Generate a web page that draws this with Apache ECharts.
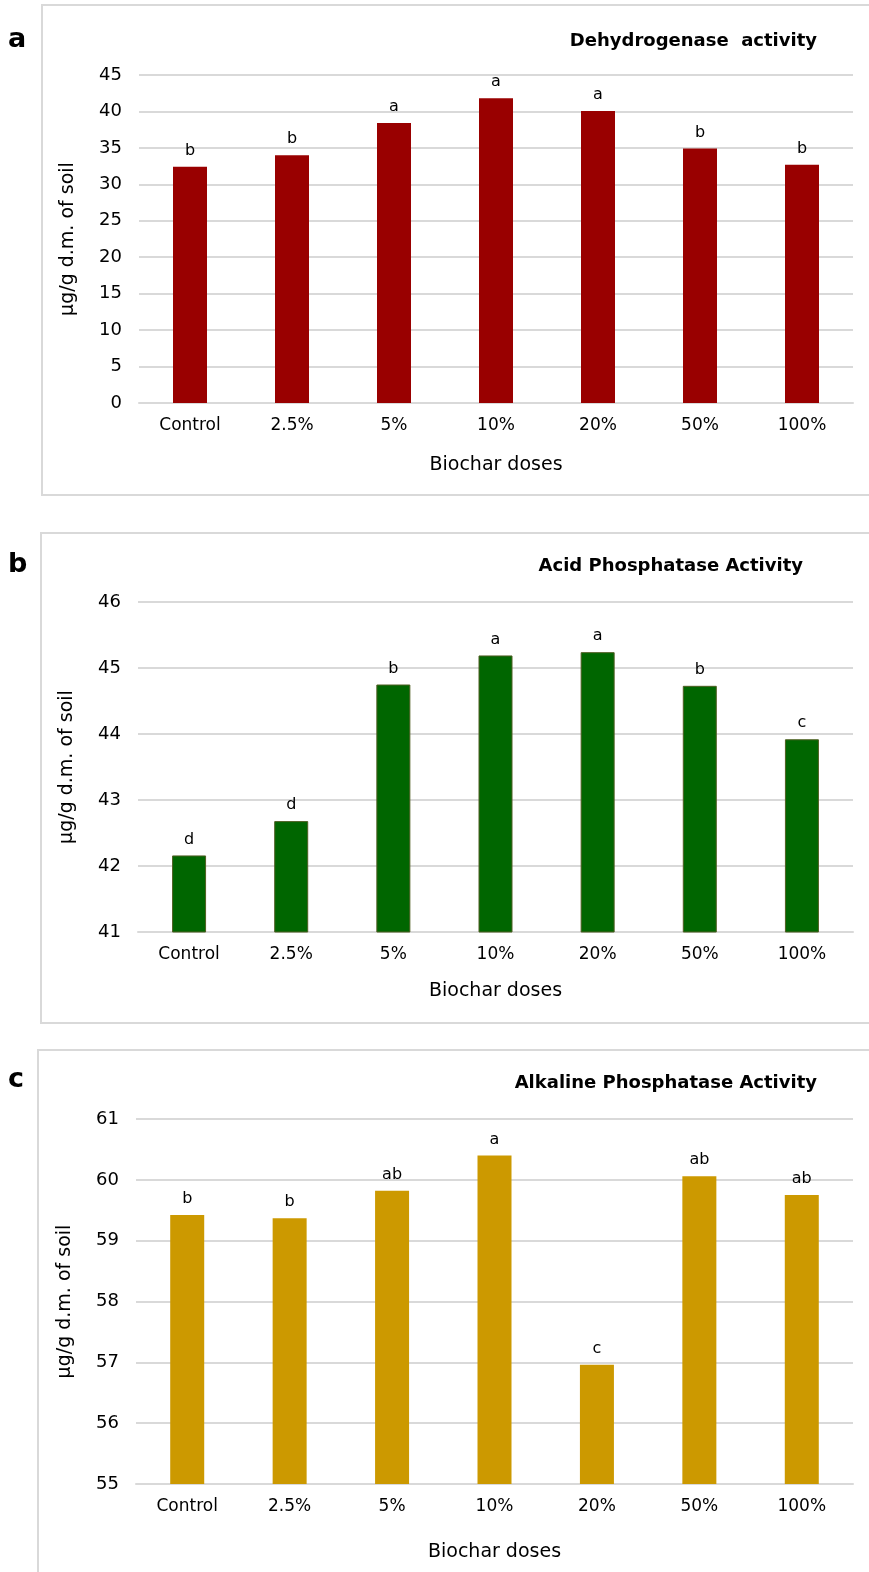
<!DOCTYPE html>
<html>
<head>
<meta charset="utf-8">
<script src="https://cdn.jsdelivr.net/npm/echarts@6/dist/echarts.min.js"></script>
<style>
html,body{margin:0;padding:0;background:#fff;}
#chart{width:869px;height:1572px;}
</style>
</head>
<body>
<div id="chart"></div>
<script>
// ---- data ----
const categories = ['Control', '2.5%', '5%', '10%', '20%', '50%', '100%'];
const dehydrogenase = [32.4, 34.0, 38.4, 41.8, 40.05, 34.9, 32.7];
const dehydrogenaseLetters = ['b', 'b', 'a', 'a', 'a', 'b', 'b'];
const acidPhosphatase = [42.16, 42.68, 44.75, 45.19, 45.24, 44.73, 43.92];
const acidLetters = ['d', 'd', 'b', 'a', 'a', 'b', 'c'];
const alkalinePhosphatase = [59.42, 59.37, 59.82, 60.4, 56.96, 60.06, 59.75];
const alkalineLetters = ['b', 'b', 'ab', 'a', 'c', 'ab', 'ab'];
const titles = ['Dehydrogenase  activity', 'Acid Phosphatase Activity', 'Alkaline Phosphatase Activity'];
const panelLetters = ['a', 'b', 'c'];
const yTitle = 'µg/g d.m. of soil';
const xTitle = 'Biochar doses';

const FONT = 'DejaVu Sans';
const GRID_COLOR = '#d9d9d9';

const chart = echarts.init(document.getElementById('chart'), null, {renderer: 'canvas'});

const grids = [
  {left: 139, right: 16, top: 75, height: 328},
  {left: 138, right: 16, top: 602, height: 330},
  {left: 136, right: 16, top: 1119, height: 365}
];
const yRanges = [
  {min: 0, max: 45, interval: 5},
  {min: 41, max: 46, interval: 1},
  {min: 55, max: 61, interval: 1}
];
const seriesData = [dehydrogenase, acidPhosphatase, alkalinePhosphatase];
const seriesLetters = [dehydrogenaseLetters, acidLetters, alkalineLetters];
const colors = ['#990000', '#006600', '#cc9900'];
const borders = [null, '#4f5e22', null];
const xNameGaps = [53, 50, 59];

const xAxes = grids.map((g, i) => ({
  type: 'category', gridIndex: i, data: categories,
  axisLine: {show: true, lineStyle: {color: GRID_COLOR, width: 2}},
  axisTick: {show: false},
  axisLabel: {color: '#000', fontFamily: FONT, fontSize: 17, margin: 14},
  name: xTitle, nameLocation: 'middle', nameGap: xNameGaps[i],
  nameTextStyle: {color: '#000', fontFamily: FONT, fontSize: 19}
}));
const yAxes = grids.map((g, i) => ({
  type: 'value', gridIndex: i,
  min: yRanges[i].min, max: yRanges[i].max, interval: yRanges[i].interval,
  axisLine: {show: false}, axisTick: {show: false},
  splitLine: {show: true, lineStyle: {color: GRID_COLOR, width: 2}},
  axisLabel: {color: '#000', fontFamily: FONT, fontSize: 18, margin: 17},
  name: yTitle, nameLocation: 'middle', nameGap: 61, nameRotate: 90,
  nameTextStyle: {color: '#000', fontFamily: FONT, fontSize: 19}
}));
const series = seriesData.map((d, i) => ({
  type: 'bar', xAxisIndex: i, yAxisIndex: i, data: d, barWidth: 34,
  itemStyle: {color: colors[i], borderColor: borders[i] || colors[i], borderWidth: borders[i] ? 1 : 0},
  label: {
    show: true, position: 'top', distance: 8, color: '#000', fontFamily: FONT, fontSize: 16,
    formatter: p => seriesLetters[i][p.dataIndex]
  },
  silent: true
}));

const titleRight = [47, 61, 47];
const titleTop = [27, 552, 1069];
const titleComps = titles.map((t, i) => ({
  text: t, right: titleRight[i], top: titleTop[i],
  textStyle: {fontFamily: FONT, fontSize: 18, fontWeight: 'bold', color: '#000'}
}));

const panelRects = [
  {x: 42, y: 5, w: 900, h: 490},
  {x: 41, y: 533, w: 900, h: 490},
  {x: 38, y: 1050, w: 900, h: 600}
];
const letterPos = [{x: 8, y: 40}, {x: 8, y: 565}, {x: 8, y: 1080}];
const graphics = [];
panelRects.forEach(r => graphics.push({
  type: 'rect', shape: {x: r.x, y: r.y, width: r.w, height: r.h}, z: -10, silent: true,
  style: {fill: '#fff', stroke: GRID_COLOR, lineWidth: 2}
}));
panelLetters.forEach((l, i) => graphics.push({
  type: 'text', x: letterPos[i].x, y: letterPos[i].y, silent: true,
  style: {text: l, font: 'bold 27px "DejaVu Sans"', fill: '#000', textVerticalAlign: 'middle'}
}));

chart.setOption({
  backgroundColor: '#fff',
  animation: false,
  title: titleComps,
  grid: grids,
  xAxis: xAxes,
  yAxis: yAxes,
  series: series,
  graphic: graphics
});
</script>
</body>
</html>
